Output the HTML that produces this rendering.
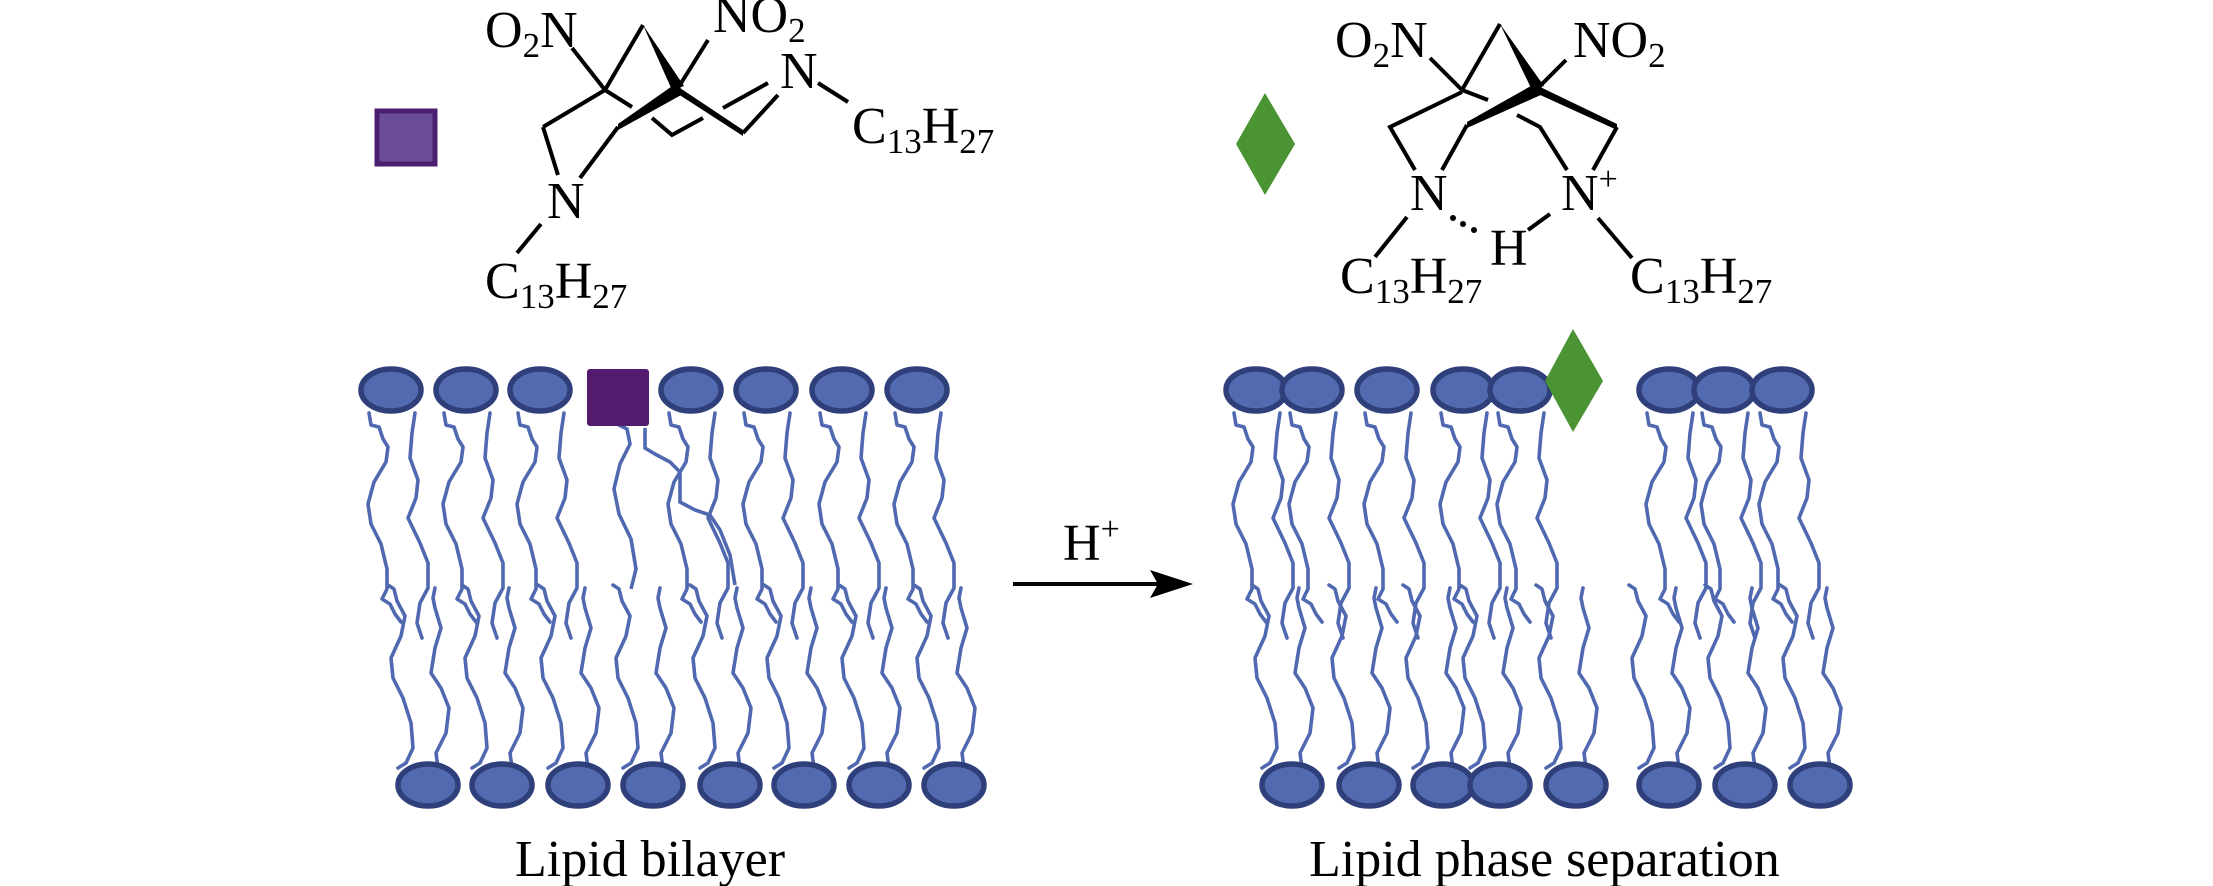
<!DOCTYPE html>
<html><head><meta charset="utf-8"><style>
html,body{margin:0;padding:0;background:#fff;}
svg{display:block;}
text{font-family:"Liberation Serif",serif;fill:#000;}
</style></head><body>
<svg width="2213" height="886" viewBox="0 0 2213 886" xmlns="http://www.w3.org/2000/svg">
<defs>
<g id="top">
<path d="M-22,23 l2,12 8,2 4,12 5,8 -2,15 -12,20 -6,22 3,20 10,20 6,25 0,20 -5,10 8,5 5,10 6,8" fill="none" stroke="#5068b0" stroke-width="3.6" stroke-linejoin="round" stroke-linecap="round"/>
<path d="M24,23 l-3,20 -2,25 8,22 -2,18 -8,20 12,25 8,20 0,25 -8,15 -3,20 5,15" fill="none" stroke="#5068b0" stroke-width="3.6" stroke-linejoin="round" stroke-linecap="round"/>
<ellipse cx="0" cy="0" rx="30" ry="21" fill="#5369b0" stroke="#2f3f7a" stroke-width="5.5"/>
</g>
<g id="bot">
<path d="M-30,-17 l8,-5 7,-15 -2,-25 -8,-25 -10,-20 -2,-20 10,-22 4,-20 -8,-15 -3,-12 -6,-4" fill="none" stroke="#5068b0" stroke-width="3.6" stroke-linejoin="round" stroke-linecap="round"/>
<path d="M10,-17 l-2,-15 10,-20 3,-25 -8,-20 -10,-15 4,-25 6,-20 -6,-20 -2,-10 2,-10" fill="none" stroke="#5068b0" stroke-width="3.6" stroke-linejoin="round" stroke-linecap="round"/>
<ellipse cx="0" cy="0" rx="30" ry="21" fill="#5369b0" stroke="#2f3f7a" stroke-width="5.5"/>
</g>
</defs>

<use href="#top" x="391" y="390"/><use href="#top" x="466" y="390"/><use href="#top" x="540" y="390"/>
<use href="#top" x="691" y="390"/><use href="#top" x="766" y="390"/><use href="#top" x="842" y="390"/><use href="#top" x="917" y="390"/>
<path d="M616,413 l3,12 8,4 3,15 -10,20 -6,25 5,25 12,25 5,30 -5,20" fill="none" stroke="#5068b0" stroke-width="3.6"/>
<path d="M645,428 l0,20 10,6 15,8 10,10 0,30 15,8 15,5 10,15 10,25 5,30" fill="none" stroke="#5068b0" stroke-width="3.6"/>
<rect x="587" y="369" width="62" height="57" rx="3" fill="#521b6e"/>
<use href="#bot" x="428" y="785"/><use href="#bot" x="502" y="785"/><use href="#bot" x="578" y="785"/><use href="#bot" x="653" y="785"/>
<use href="#bot" x="730" y="785"/><use href="#bot" x="804" y="785"/><use href="#bot" x="879" y="785"/><use href="#bot" x="954" y="785"/>

<use href="#top" x="1256" y="390"/><use href="#top" x="1312" y="390"/><use href="#top" x="1387" y="390"/><use href="#top" x="1463" y="390"/><use href="#top" x="1520" y="390"/>
<use href="#top" x="1669" y="390"/><use href="#top" x="1724" y="390"/><use href="#top" x="1782" y="390"/>
<path d="M1573,329 L1603,381 L1573,432 L1545,381 Z" fill="#4a9434"/>
<use href="#bot" x="1292" y="785"/><use href="#bot" x="1369" y="785"/><use href="#bot" x="1443" y="785"/><use href="#bot" x="1500" y="785"/>
<use href="#bot" x="1576" y="785"/><use href="#bot" x="1669" y="785"/><use href="#bot" x="1745" y="785"/><use href="#bot" x="1820" y="785"/>

<line x1="1013" y1="584" x2="1170" y2="584" stroke="#000" stroke-width="4"/>
<path d="M1193,584 L1150,570 L1158,584 L1150,598 Z" fill="#000"/>
<text x="1063" y="560" font-size="52">H<tspan font-size="34" dy="-20">+</tspan></text>

<text x="515" y="876" font-size="52">Lipid bilayer</text>
<text x="1309" y="876" font-size="52">Lipid phase separation</text>

<rect x="377" y="111" width="58" height="53" fill="#6b4c96" stroke="#4b1f6f" stroke-width="5"/>
<path d="M1265,93 L1295,144 L1265,195 L1236,144 Z" fill="#4a9434"/>

<g stroke="#000" stroke-width="4" fill="none">
<line x1="572" y1="48" x2="605" y2="90"/>
<line x1="708" y1="40" x2="678" y2="88"/>
<line x1="643" y1="25" x2="605" y2="90"/>
<line x1="605" y1="90" x2="543" y2="127"/>
<line x1="543" y1="127" x2="558" y2="175"/>
<line x1="605" y1="90" x2="632" y2="107"/>
<line x1="618" y1="127" x2="580" y2="178"/>
<polyline points="652,118 672,135 703,118"/>
<line x1="743" y1="133" x2="778" y2="95"/>
<line x1="723" y1="108" x2="768" y2="83"/>
<line x1="818" y1="83" x2="848" y2="102"/>
<line x1="541" y1="224" x2="517" y2="253"/>
</g>
<path d="M643,25 L684,86 L672,90 Z" fill="#000"/>
<path d="M678,82 L618,124 L618,130 L683,94 Z" fill="#000"/>
<path d="M674,84 L743,130 L743,136 L678,94 Z" fill="#000"/>
<text x="485" y="47" font-size="52">O<tspan font-size="35" dy="10">2</tspan><tspan dy="-10">N</tspan></text>
<text x="713" y="32" font-size="52">NO<tspan font-size="35" dy="10">2</tspan></text>
<text x="780" y="88" font-size="52">N</text>
<text x="852" y="143" font-size="52">C<tspan font-size="35" dy="10">13</tspan><tspan dy="-10">H</tspan><tspan font-size="35" dy="10">27</tspan></text>
<text x="547" y="218" font-size="52">N</text>
<text x="485" y="298" font-size="52">C<tspan font-size="35" dy="10">13</tspan><tspan dy="-10">H</tspan><tspan font-size="35" dy="10">27</tspan></text>

<g stroke="#000" stroke-width="4" fill="none">
<line x1="1430" y1="58" x2="1462" y2="90"/>
<line x1="1566" y1="60" x2="1538" y2="88"/>
<line x1="1500" y1="24" x2="1462" y2="90"/>
<polyline points="1462,92 1390,127 1415,170"/>
<line x1="1462" y1="90" x2="1488" y2="100"/>
<polyline points="1517,115 1540,127 1567,170"/>
<line x1="1467" y1="125" x2="1442" y2="170"/>
<line x1="1617" y1="127" x2="1593" y2="170"/>
<line x1="1407" y1="217" x2="1375" y2="257"/>
<line x1="1528" y1="230" x2="1550" y2="214"/>
<line x1="1598" y1="218" x2="1632" y2="258"/>
</g>
<circle cx="1453" cy="218" r="3" fill="#000"/><circle cx="1463" cy="224" r="3" fill="#000"/><circle cx="1474" cy="230" r="3" fill="#000"/>
<path d="M1500,24 L1544,86 L1532,90 Z" fill="#000"/>
<path d="M1538,82 L1467,122 L1467,128 L1543,94 Z" fill="#000"/>
<path d="M1534,84 L1617,124 L1617,130 L1538,94 Z" fill="#000"/>
<text x="1335" y="57" font-size="52">O<tspan font-size="35" dy="10">2</tspan><tspan dy="-10">N</tspan></text>
<text x="1573" y="57" font-size="52">NO<tspan font-size="35" dy="10">2</tspan></text>
<text x="1410" y="210" font-size="52">N</text>
<text x="1561" y="210" font-size="52">N<tspan font-size="34" dy="-20">+</tspan></text>
<text x="1490" y="265" font-size="52">H</text>
<text x="1340" y="293" font-size="52">C<tspan font-size="35" dy="10">13</tspan><tspan dy="-10">H</tspan><tspan font-size="35" dy="10">27</tspan></text>
<text x="1630" y="293" font-size="52">C<tspan font-size="35" dy="10">13</tspan><tspan dy="-10">H</tspan><tspan font-size="35" dy="10">27</tspan></text>
</svg>
</body></html>
